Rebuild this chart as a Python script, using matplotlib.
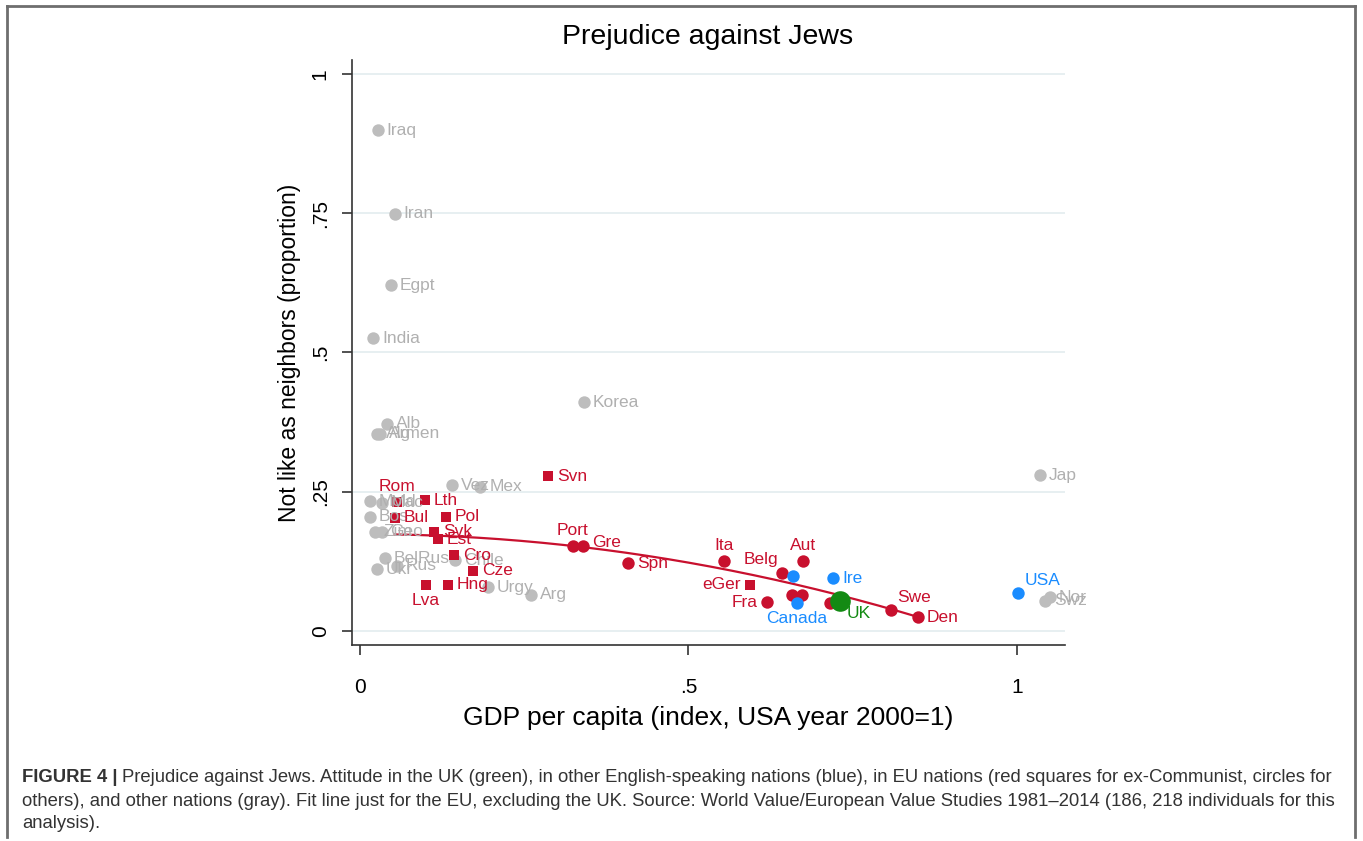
import matplotlib.pyplot as plt
import numpy as np
from matplotlib.lines import Line2D

plt.rcParams['font.family'] = ['Liberation Sans', 'DejaVu Sans']

# Other nations (gray)
other_names = ['Iraq', 'Iran', 'Egpt', 'India', 'Korea', 'Alb', 'Alg', 'Armen',
               'Vez', 'Mex', 'Jap', 'Nor', 'Swz', 'Arg', 'Urgy', 'Chile',
               'BelRus', 'Ukr', 'Rus', 'Mold', 'Mac', 'Bos', 'Zim', 'Geo']
other_gdp = [0.027, 0.053, 0.047, 0.020, 0.341, 0.041, 0.026, 0.030,
             0.140, 0.183, 1.035, 1.050, 1.043, 0.260, 0.195, 0.145,
             0.038, 0.026, 0.056, 0.015, 0.033, 0.015, 0.023, 0.033]
other_prej = [0.899, 0.749, 0.621, 0.526, 0.411, 0.372, 0.354, 0.354,
              0.262, 0.259, 0.280, 0.061, 0.054, 0.065, 0.079, 0.127,
              0.131, 0.111, 0.117, 0.233, 0.230, 0.205, 0.178, 0.178]

# EU ex-Communist (red squares)
excom_names = ['Rom', 'Lth', 'Bul', 'Pol', 'Svk', 'Est', 'Cro', 'Cze',
               'Hng', 'Lva', 'Svn', 'eGer']
excom_gdp = [0.056, 0.099, 0.053, 0.131, 0.113, 0.119, 0.143, 0.172,
             0.134, 0.100, 0.286, 0.594]
excom_prej = [0.232, 0.235, 0.203, 0.205, 0.178, 0.165, 0.136, 0.108,
              0.083, 0.083, 0.278, 0.083]

# Other EU nations (red circles)
eu_names = ['Port', 'Gre', 'Spn', 'Ita', 'Aut', 'Belg', 'Fra', '', '', '',
            'Swe', 'Den']
eu_gdp = [0.324, 0.339, 0.408, 0.554, 0.674, 0.642, 0.619, 0.658, 0.673,
          0.715, 0.808, 0.849]
eu_prej = [0.153, 0.153, 0.122, 0.126, 0.126, 0.104, 0.052, 0.065, 0.065,
           0.050, 0.038, 0.025]

# Other English-speaking nations (blue)
eng_names = ['', 'Ire', 'Canada', 'USA']
eng_gdp = [0.659, 0.720, 0.665, 1.002]
eng_prej = [0.099, 0.095, 0.050, 0.068]

# UK (green)
uk_names = ['UK']
uk_gdp = [0.731]
uk_prej = [0.054]

# Quadratic fit for EU nations excluding the UK (highest power first)
fit_coef = [-0.2087, 0.0023, 0.1739]

# Stata-style clock positions for labels (default 3 o'clock)
label_pos = {'Rom': 12, 'Lva': 6, 'eGer': 9, 'Port': 12, 'Gre': 2,
             'Ita': 12, 'Aut': 12, 'Belg': 11, 'Fra': 9, 'Swe': 1,
             'Canada': 6, 'USA': 1, 'UK': 4}

RED = '#c8102e'
BLUE = '#1a8cff'
GRAY = '#bdbdbd'
GRAY_TXT = '#b0b0b0'
GREEN = '#138a13'

W, H = 1363, 841
fig = plt.figure(figsize=(W / 100, H / 100), dpi=100)
ax = fig.add_axes([352 / W, 1 - 645 / H, (1065 - 352) / W, (645 - 60) / H])

ax.set_xlim(-0.012, 1.073)
ax.set_ylim(-0.025, 1.025)

for v in [0, 0.25, 0.5, 0.75, 1]:
    ax.axhline(v, color='#e3ecef', lw=1.2, zorder=0)

# offsets in pixels: dx, dy, ha, va
offsets = {3: (9, 0, 'left', 'center'), 12: (0, 8, 'center', 'bottom'),
           6: (0, -8, 'center', 'top'), 9: (-9, 0, 'right', 'center'),
           1: (6, 5, 'left', 'bottom'), 2: (9, 3, 'left', 'center'),
           11: (-4, 6, 'right', 'bottom'), 4: (6, -5, 'left', 'top')}


def label_points(names, xs, ys, color):
    for n, x, y in zip(names, xs, ys):
        if not n:
            continue
        dx, dy, ha, va = offsets[label_pos.get(n, 3)]
        ax.annotate(n, (x, y), xytext=(dx * 0.72, dy * 0.72),
                    textcoords='offset points', ha=ha, va=va,
                    fontsize=12.5, color=color, zorder=5)


ax.scatter(other_gdp, other_prej, s=80, color=GRAY, marker='o',
           linewidths=0, zorder=2)
label_points(other_names, other_gdp, other_prej, GRAY_TXT)

ax.scatter(excom_gdp, excom_prej, s=58, color=RED, marker='s',
           linewidths=0, zorder=3)
label_points(excom_names, excom_gdp, excom_prej, RED)

ax.scatter(eu_gdp, eu_prej, s=80, color=RED, marker='o',
           linewidths=0, zorder=3)
label_points(eu_names, eu_gdp, eu_prej, RED)

# Fit line over the EU range
eu_all_x = np.array(excom_gdp + eu_gdp)
xf = np.linspace(eu_all_x.min(), eu_all_x.max(), 200)
ax.plot(xf, np.polyval(fit_coef, xf), color=RED, lw=1.6, zorder=4)

ax.scatter(eng_gdp, eng_prej, s=80, color=BLUE, marker='o',
           linewidths=0, zorder=4)
label_points(eng_names, eng_gdp, eng_prej, BLUE)

ax.scatter(uk_gdp, uk_prej, s=220, color=GREEN, marker='o',
           linewidths=0, zorder=5)
label_points(uk_names, uk_gdp, uk_prej, GREEN)

# Axes styling
for s in ['top', 'right']:
    ax.spines[s].set_visible(False)
for s in ['left', 'bottom']:
    ax.spines[s].set_color('#333333')
    ax.spines[s].set_linewidth(1.2)

ax.set_xticks([0, 0.5, 1])
ax.set_xticklabels(['0', '.5', '1'])
ax.set_yticks([0, 0.25, 0.5, 0.75, 1])
ax.set_yticklabels(['0', '.25', '.5', '.75', '1'], rotation=90, va='center')
ax.tick_params(axis='both', direction='out', length=7, width=1.2,
               color='#333333', labelsize=15)
ax.tick_params(axis='x', pad=17)
ax.tick_params(axis='y', pad=9)

ax.set_xlabel('GDP per capita (index, USA year 2000=1)', fontsize=19,
              labelpad=6)
ax.set_ylabel('Not like as neighbors (proportion)', fontsize=16.5,
              labelpad=7)
fig.text(708 / W, 1 - 37 / H, 'Prejudice against Jews', fontsize=20.5,
         ha='center', va='center')

# Panel frame
frame_kw = dict(color='#6e6e6e', lw=2, transform=fig.transFigure)
fig.add_artist(Line2D([7 / W, 7 / W], [0.005, 1 - 6 / H], **frame_kw))
fig.add_artist(Line2D([7 / W, 1355 / W], [1 - 6 / H, 1 - 6 / H], **frame_kw))
fig.add_artist(Line2D([1355 / W, 1355 / W], [0.005, 1 - 6 / H], **frame_kw))

# Caption
cap_font = ['Liberation Sans Narrow', 'Liberation Sans']
cap_color = '#333333'
cap_size = 13.3
head = fig.text(22 / W, 1 - 777 / H, 'FIGURE 4 |', fontsize=cap_size,
                fontweight='bold', family=cap_font, color=cap_color,
                va='center', ha='left')
fig.canvas.draw()
bb = head.get_window_extent(fig.canvas.get_renderer())
fig.text((bb.x1 + 5) / W, 1 - 777 / H,
         'Prejudice against Jews. Attitude in the UK (green), in other '
         'English-speaking nations (blue), in EU nations (red squares for '
         'ex-Communist, circles for',
         fontsize=cap_size, family=cap_font, color=cap_color, va='center',
         ha='left')
fig.text(22 / W, 1 - 801 / H,
         'others), and other nations (gray). Fit line just for the EU, '
         'excluding the UK. Source: World Value/European Value Studies '
         '1981\u20132014 (186, 218 individuals for this',
         fontsize=cap_size, family=cap_font, color=cap_color, va='center',
         ha='left')
fig.text(22 / W, 1 - 823 / H, 'analysis).', fontsize=cap_size,
         family=cap_font, color=cap_color, va='center', ha='left')

fig.savefig('out.png', dpi=100)
